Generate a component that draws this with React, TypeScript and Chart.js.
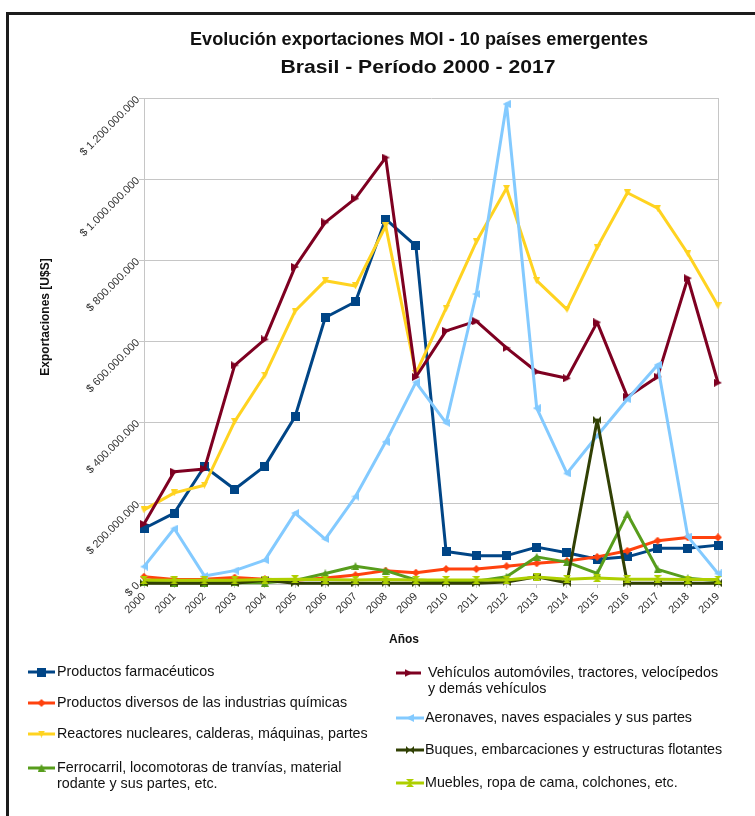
import { useEffect, useRef } from 'react';
import { Chart, registerables } from 'chart.js';

Chart.register(...registerables);

// Años del eje horizontal
const years = [
  '2000', '2001', '2002', '2003', '2004', '2005', '2006', '2007', '2008', '2009',
  '2010', '2011', '2012', '2013', '2014', '2015', '2016', '2017', '2018', '2019',
];

// Exportaciones anuales por rubro, en millones de US$
const farmaceuticos = [137, 175, 290, 234, 291, 413, 658, 697, 901, 835, 80, 70, 70, 91, 77, 61, 67, 88, 88, 96];
const quimicos = [18, 11, 12, 16, 12, 9, 15, 22, 33, 28, 37, 37, 44, 51, 57, 67, 82, 107, 115, 115];
const reactores = [183, 225, 244, 401, 516, 674, 749, 736, 884, 520, 681, 845, 977, 749, 678, 831, 966, 928, 816, 687];
const ferrocarril = [4, 3, 3, 4, 3, 9, 26, 44, 33, 10, 7, 7, 18, 67, 54, 26, 173, 36, 14, 8];
const vehiculos = [148, 277, 284, 540, 604, 783, 893, 952, 1053, 511, 625, 649, 583, 524, 508, 646, 462, 512, 755, 497];
const aeronaves = [43, 137, 20, 33, 59, 175, 111, 216, 351, 498, 398, 716, 1185, 434, 273, 366, 456, 541, 117, 26];
const buques = [2, 2, 2, 2, 9, 2, 2, 2, 2, 2, 2, 2, 5, 18, 3, 405, 2, 2, 2, 2];
const muebles = [10, 9, 9, 9, 11, 12, 11, 10, 11, 10, 10, 10, 10, 17, 12, 15, 12, 12, 11, 11];

const seriesData = [farmaceuticos, quimicos, reactores, ferrocarril, vehiculos, aeronaves, buques, muebles];

const seriesLabels: string[][] = [
  ['Productos farmacéuticos'],
  ['Productos diversos de las industrias químicas'],
  ['Reactores nucleares, calderas, máquinas, partes'],
  ['Ferrocarril, locomotoras de tranvías, material', 'rodante y sus partes, etc.'],
  ['Vehículos automóviles, tractores, velocípedos', 'y demás vehículos'],
  ['Aeronaves, naves espaciales y sus partes'],
  ['Buques, embarcaciones y estructuras flotantes'],
  ['Muebles, ropa de cama, colchones, etc.'],
];

const seriesColors = ['#004586', '#ff420e', '#ffd320', '#579d1c', '#7e0021', '#83caff', '#314004', '#aecf00'];

type Symbol = 'square' | 'diamond' | 'down' | 'up' | 'right' | 'left' | 'bowtie' | 'hourglass';
const seriesSymbols: Symbol[] = ['square', 'diamond', 'down', 'up', 'right', 'left', 'bowtie', 'hourglass'];

const titleLines = ['Evolución exportaciones MOI - 10 países emergentes', 'Brasil - Período 2000 - 2017'];
const yTitle = 'Exportaciones [U$S]';
const xTitle = 'Años';

const FONT = "'Liberation Sans', Arial, sans-serif";

function makeSymbol(shape: Symbol, color: string, size: number): HTMLCanvasElement {
  const c = document.createElement('canvas');
  c.width = size;
  c.height = size;
  const g = c.getContext('2d') as CanvasRenderingContext2D;
  const s = size;
  g.fillStyle = color;
  g.beginPath();
  switch (shape) {
    case 'square':
      g.rect(0, 0, s, s);
      break;
    case 'diamond':
      g.moveTo(s / 2, 0); g.lineTo(s, s / 2); g.lineTo(s / 2, s); g.lineTo(0, s / 2); g.closePath();
      break;
    case 'down':
      g.moveTo(0, 0); g.lineTo(s, 0); g.lineTo(s / 2, s); g.closePath();
      break;
    case 'up':
      g.moveTo(s / 2, 0); g.lineTo(s, s); g.lineTo(0, s); g.closePath();
      break;
    case 'right':
      g.moveTo(0, 0); g.lineTo(s, s / 2); g.lineTo(0, s); g.closePath();
      break;
    case 'left':
      g.moveTo(s, 0); g.lineTo(0, s / 2); g.lineTo(s, s); g.closePath();
      break;
    case 'bowtie':
      g.moveTo(0, 0); g.lineTo(s / 2, s / 2); g.lineTo(0, s); g.closePath();
      g.moveTo(s, 0); g.lineTo(s / 2, s / 2); g.lineTo(s, s); g.closePath();
      break;
    case 'hourglass':
      g.moveTo(0, 0); g.lineTo(s, 0); g.lineTo(s / 2, s / 2); g.closePath();
      g.moveTo(0, s); g.lineTo(s, s); g.lineTo(s / 2, s / 2); g.closePath();
      break;
  }
  g.fill();
  return c;
}

function formatMoney(millions: number): string {
  const v = Math.round(millions * 1e6).toString();
  return '$ ' + v.replace(/\B(?=(\d{3})+(?!\d))/g, '.');
}

function fitText(ctx: CanvasRenderingContext2D, text: string, cx: number, cy: number, width: number) {
  const w = ctx.measureText(text).width;
  ctx.save();
  ctx.translate(cx, cy);
  ctx.scale(width / w, 1);
  ctx.textAlign = 'center';
  ctx.textBaseline = 'middle';
  ctx.fillText(text, 0, 0);
  ctx.restore();
}

export default function App() {
  const canvasRef = useRef<HTMLCanvasElement | null>(null);

  useEffect(() => {
    const canvas = canvasRef.current;
    if (!canvas) return;

    const symbolSizes = [9, 8, 7, 8, 8, 8, 8, 8];
    const symbols = seriesSymbols.map((s, i) => makeSymbol(s, seriesColors[i], symbolSizes[i]));

    // two-column legend below the plot
    const legendSlots = [
      { x0: 28, x1: 55, tx: 57, y: 672 },
      { x0: 28, x1: 55, tx: 57, y: 703 },
      { x0: 28, x1: 55, tx: 57, y: 734 },
      { x0: 28, x1: 55, tx: 57, y: 768 },
      { x0: 396, x1: 421, tx: 428, y: 673 },
      { x0: 396, x1: 424, tx: 425, y: 718 },
      { x0: 396, x1: 424, tx: 425, y: 750 },
      { x0: 396, x1: 424, tx: 425, y: 783 },
    ];

    const decor = {
      id: 'decor',
      beforeDraw(chart: Chart) {
        const ctx = chart.ctx;
        ctx.save();
        ctx.fillStyle = '#ffffff';
        ctx.fillRect(0, 0, chart.width, chart.height);
        ctx.restore();
      },
      beforeDatasetsDraw(chart: Chart) {
        const { ctx, chartArea: a } = chart;
        ctx.save();
        ctx.strokeStyle = '#c6c6c6';
        ctx.lineWidth = 1;
        const x = Math.round(a.right) + 0.5;
        ctx.beginPath();
        ctx.moveTo(x, a.top);
        ctx.lineTo(x, a.bottom);
        ctx.stroke();
        ctx.restore();
      },
      afterDraw(chart: Chart) {
        const ctx = chart.ctx;
        ctx.save();

        // outer frame (left and top edges)
        ctx.fillStyle = '#1c1c1c';
        ctx.fillRect(6, 12, 3, chart.height - 12);
        ctx.fillRect(6, 12, chart.width - 6, 3);

        // titles
        ctx.fillStyle = '#111111';
        ctx.font = `bold 18px ${FONT}`;
        fitText(ctx, titleLines[0], 419, 40, 458);
        fitText(ctx, titleLines[1], 418, 68, 275);

        // axis titles
        ctx.font = `bold 12px ${FONT}`;
        ctx.textAlign = 'center';
        ctx.textBaseline = 'middle';
        ctx.fillText(xTitle, 404, 640);
        ctx.save();
        ctx.translate(46, 317);
        ctx.rotate(-Math.PI / 2);
        ctx.fillText(yTitle, 0, 0);
        ctx.restore();

        // legend
        ctx.font = `14.3px ${FONT}`;
        ctx.textAlign = 'left';
        ctx.textBaseline = 'middle';
        legendSlots.forEach((slot, i) => {
          ctx.strokeStyle = seriesColors[i];
          ctx.lineWidth = 3;
          ctx.beginPath();
          ctx.moveTo(slot.x0, slot.y);
          ctx.lineTo(slot.x1, slot.y);
          ctx.stroke();
          const sym = symbols[i];
          const cx = (slot.x0 + slot.x1) / 2;
          ctx.drawImage(sym, cx - sym.width / 2, slot.y - sym.height / 2);
          ctx.fillStyle = '#111111';
          seriesLabels[i].forEach((line, k) => {
            ctx.fillText(line, slot.tx, slot.y + k * 16);
          });
        });

        ctx.restore();
      },
    };

    const chart = new Chart(canvas, {
      type: 'line',
      data: {
        labels: years,
        datasets: seriesData.map((data, i) => ({
          label: seriesLabels[i].join(' '),
          data,
          borderColor: seriesColors[i],
          backgroundColor: seriesColors[i],
          borderWidth: 3,
          borderJoinStyle: 'round' as const,
          pointStyle: symbols[i],
          pointRadius: 4,
          pointHoverRadius: 4,
          tension: 0,
          clip: false as unknown as number,
          order: seriesData.length - i,
        })),
      },
      options: {
        responsive: false,
        animation: false,
        events: [],
        layout: { padding: { top: 98, right: 37, left: 0, bottom: 172 } },
        plugins: {
          legend: { display: false },
          title: { display: false },
          tooltip: { enabled: false },
        },
        scales: {
          x: {
            type: 'category',
            offset: false,
            grid: { display: true, drawOnChartArea: false, tickLength: 4, color: '#c6c6c6' },
            border: { color: '#c6c6c6' },
            ticks: {
              autoSkip: false,
              minRotation: 45,
              maxRotation: 45,
              padding: 2,
              color: '#333333',
              font: { family: FONT, size: 11 },
            },
            afterFit: (s: any) => { s.height = 60; },
          },
          y: {
            min: 0,
            max: 1200,
            grid: { color: '#c6c6c6', tickLength: 5 },
            border: { color: '#c6c6c6' },
            ticks: {
              stepSize: 200,
              minRotation: 45,
              maxRotation: 45,
              padding: 1,
              color: '#333333',
              font: { family: FONT, size: 11 },
              callback: (v: any) => formatMoney(Number(v)),
            },
            afterFit: (s: any) => { s.width = 144; },
          },
        },
      },
      plugins: [decor],
    });

    return () => chart.destroy();
  }, []);

  return (
    <div style={{ position: 'fixed', left: 0, top: 0, width: 755, height: 816, background: '#fff' }}>
      <canvas ref={canvasRef} width={755} height={816} style={{ display: 'block', width: 755, height: 816 }} />
    </div>
  );
}
